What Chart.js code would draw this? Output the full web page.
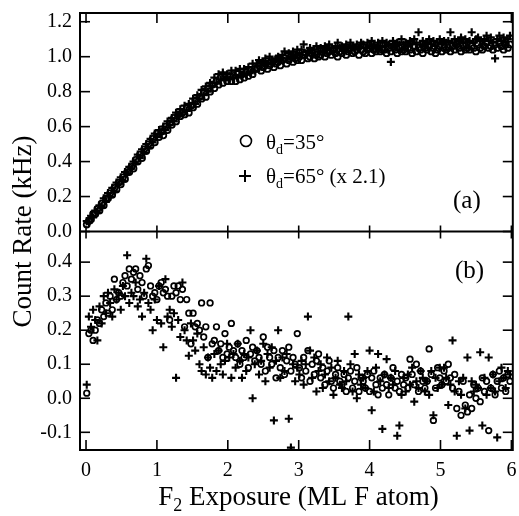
<!DOCTYPE html>
<html>
<head>
<meta charset="utf-8">
<script src="https://cdn.jsdelivr.net/npm/chart.js@4"></script>
<style>
html, body { margin: 0; padding: 0; background: #fff; }
canvas { display: block; }
</style>
</head>
<body>
<canvas id="myChart" width="519" height="516"></canvas>
<script>
// F2 exposure (ML F atom), shared by both detectors and both panels
var exposure = [
  0.01,0.04,0.07,0.10,0.13,0.16,0.19,0.22,0.25,0.28,
  0.31,0.34,0.37,0.40,0.43,0.46,0.49,0.52,0.55,0.58,
  0.61,0.64,0.67,0.70,0.73,0.76,0.79,0.82,0.85,0.88,
  0.91,0.94,0.97,1.00,1.03,1.06,1.09,1.12,1.15,1.18,
  1.21,1.24,1.27,1.30,1.33,1.36,1.39,1.42,1.45,1.48,
  1.51,1.54,1.57,1.60,1.63,1.66,1.69,1.72,1.75,1.78,
  1.81,1.84,1.87,1.90,1.93,1.96,1.99,2.02,2.05,2.08,
  2.11,2.14,2.17,2.20,2.23,2.26,2.29,2.32,2.35,2.38,
  2.41,2.44,2.47,2.50,2.53,2.56,2.59,2.62,2.65,2.68,
  2.71,2.74,2.77,2.80,2.83,2.86,2.89,2.92,2.95,2.98,
  3.01,3.04,3.07,3.10,3.13,3.16,3.19,3.22,3.25,3.28,
  3.31,3.34,3.37,3.40,3.43,3.46,3.49,3.52,3.55,3.58,
  3.61,3.64,3.67,3.70,3.73,3.76,3.79,3.82,3.85,3.88,
  3.91,3.94,3.97,4.00,4.03,4.06,4.09,4.12,4.15,4.18,
  4.21,4.24,4.27,4.30,4.33,4.36,4.39,4.42,4.45,4.48,
  4.51,4.54,4.57,4.60,4.63,4.66,4.69,4.72,4.75,4.78,
  4.81,4.84,4.87,4.90,4.93,4.96,4.99,5.02,5.05,5.08,
  5.11,5.14,5.17,5.20,5.23,5.26,5.29,5.32,5.35,5.38,
  5.41,5.44,5.47,5.50,5.53,5.56,5.59,5.62,5.65,5.68,
  5.71,5.74,5.77,5.80,5.83,5.86,5.89,5.92,5.95,5.98
];

// panel (a): count rate, theta_d = 35 deg (circles)
var rate35 = [
  0.04,0.06,0.07,0.10,0.10,0.13,0.12,0.16,0.15,0.19,
  0.19,0.22,0.21,0.25,0.24,0.28,0.27,0.31,0.30,0.34,
  0.34,0.37,0.36,0.41,0.40,0.44,0.42,0.47,0.46,0.50,
  0.49,0.53,0.51,0.56,0.54,0.57,0.55,0.60,0.58,0.62,
  0.61,0.65,0.63,0.67,0.66,0.68,0.67,0.71,0.68,0.72,
  0.71,0.75,0.73,0.77,0.76,0.80,0.77,0.82,0.80,0.84,
  0.82,0.86,0.84,0.88,0.85,0.88,0.86,0.89,0.86,0.89,
  0.86,0.90,0.87,0.90,0.88,0.91,0.89,0.92,0.90,0.93,
  0.93,0.95,0.92,0.94,0.96,0.93,0.95,0.97,0.94,0.96,
  0.97,0.95,0.98,0.99,0.96,0.98,1.00,0.97,0.99,0.98,
  1.00,0.98,1.01,1.02,0.99,1.00,1.02,0.99,1.01,1.00,
  1.01,1.03,1.00,1.02,1.03,1.01,1.04,1.02,1.00,1.03,
  1.02,1.04,1.01,1.03,1.05,1.02,1.03,1.04,1.01,1.04,
  1.03,1.02,1.04,1.05,1.02,1.04,1.03,1.05,1.03,1.04,
  1.04,1.02,1.05,1.03,1.06,1.04,1.02,1.05,1.03,1.04,
  1.03,1.05,1.04,1.02,1.06,1.03,1.05,1.04,1.02,1.05,
  1.04,1.06,1.03,1.05,1.02,1.04,1.06,1.03,1.05,1.04,
  1.05,1.03,1.06,1.04,1.07,1.05,1.03,1.06,1.04,1.05,
  1.04,1.06,1.05,1.03,1.07,1.05,1.04,1.06,1.08,1.05,
  1.06,1.04,1.07,1.05,1.08,1.06,1.04,1.07,1.05,1.07
];

// panel (a): count rate, theta_d = 65 deg x 2.1 (pluses)
var rate65 = [
  0.06,0.05,0.09,0.08,0.12,0.11,0.15,0.14,0.19,0.17,
  0.22,0.20,0.25,0.23,0.28,0.27,0.31,0.29,0.34,0.33,
  0.37,0.36,0.40,0.39,0.44,0.42,0.47,0.45,0.50,0.48,
  0.53,0.51,0.56,0.54,0.58,0.56,0.60,0.58,0.63,0.61,
  0.65,0.63,0.68,0.66,0.70,0.68,0.72,0.69,0.73,0.71,
  0.76,0.73,0.78,0.76,0.81,0.78,0.83,0.80,0.85,0.83,
  0.88,0.85,0.90,0.87,0.91,0.87,0.90,0.87,0.92,0.88,
  0.92,0.88,0.93,0.89,0.93,0.90,0.94,0.91,0.96,0.92,
  0.96,0.98,0.95,0.97,0.99,0.96,1.00,0.98,0.97,0.99,
  1.00,0.98,1.01,1.03,0.99,1.02,1.00,1.03,1.01,1.04,
  1.02,1.04,1.07,1.01,1.03,1.05,1.02,1.04,1.06,1.03,
  1.05,1.03,1.06,1.04,1.07,1.05,1.03,1.06,1.08,1.05,
  1.06,1.04,1.07,1.05,1.08,1.06,1.04,1.07,1.05,1.08,
  1.07,1.05,1.08,1.06,1.09,1.07,1.05,1.08,1.06,1.09,
  1.06,1.08,1.07,0.97,1.09,1.06,1.08,1.07,1.10,1.07,
  1.08,1.06,1.09,1.07,1.10,1.08,1.14,1.07,1.09,1.06,
  1.08,1.10,1.07,1.09,1.06,1.08,1.10,1.07,1.09,1.08,
  1.09,1.14,1.08,1.10,1.07,1.09,1.11,1.08,1.10,1.08,
  1.09,1.14,1.08,1.10,1.11,1.09,1.07,1.10,1.12,1.09,
  1.11,1.08,0.99,1.10,1.12,1.09,1.11,1.08,1.10,1.12
];

// panel (b), theta_d = 35 deg (circles)
var panelB35 = [
  0.015,0.19,0.20,0.17,0.20,0.23,0.22,0.26,0.24,0.28,
  0.25,0.30,0.26,0.35,0.29,0.31,0.30,0.34,0.36,0.33,
  0.38,0.35,0.37,0.38,0.32,0.36,0.34,0.30,0.38,0.39,
  0.33,0.30,0.31,0.29,0.33,0.34,0.31,0.32,0.30,0.23,
  0.30,0.33,0.31,0.33,0.29,0.32,0.21,0.29,0.25,0.16,
  0.25,0.21,0.22,0.20,0.28,0.18,0.21,0.12,0.28,0.16,
  0.17,0.21,0.14,0.16,0.12,0.19,0.13,0.15,0.22,0.14,
  0.12,0.16,0.10,0.14,0.12,0.17,0.09,0.13,0.15,0.11,
  0.14,0.12,0.10,0.18,0.08,0.15,0.12,0.10,0.14,0.06,
  0.12,0.09,0.14,0.07,0.11,0.15,0.08,0.12,0.10,0.19,
  0.09,0.06,0.12,0.08,0.14,0.05,0.10,0.07,0.11,0.13,
  0.06,0.09,0.04,0.08,0.11,0.05,0.03,0.07,0.09,0.05,
  0.04,0.07,0.02,0.06,0.08,0.03,0.05,0.09,0.02,0.06,
  0.05,0.03,0.07,0.02,0.06,0.08,0.04,0.01,0.06,0.03,
  0.07,0.04,0.01,0.06,0.09,0.03,0.05,0.02,0.07,0.04,
  0.06,0.03,0.115,0.07,0.04,0.10,0.02,0.08,0.05,0.03,
  0.05,0.145,0.07,-0.065,0.03,0.09,0.06,0.04,0.08,0.05,
  0.10,0.06,0.03,0.07,-0.03,0.02,-0.05,0.05,-0.02,-0.04,
  0.01,-0.03,0.04,0.00,0.03,-0.01,0.06,0.02,0.05,-0.095,
  0.03,0.07,0.01,0.05,0.08,0.03,0.06,0.02,0.07,0.05
];

// panel (b), theta_d = 65 deg (pluses)
var panelB65 = [
  0.04,0.24,0.21,0.26,0.23,0.17,0.27,0.22,0.30,0.25,
  0.31,0.28,0.24,0.32,0.29,0.31,0.26,0.33,0.30,0.42,
  0.28,0.31,0.30,0.34,0.27,0.29,0.24,0.31,0.41,0.28,
  0.26,0.20,0.29,0.23,0.33,0.22,0.15,0.35,0.24,0.26,
  0.21,0.25,0.06,0.23,0.18,0.34,0.20,0.17,0.125,0.22,
  0.17,0.14,0.19,0.10,0.08,0.15,0.07,0.12,0.09,0.06,
  0.13,0.08,0.14,0.10,0.07,0.11,0.16,0.12,0.06,0.13,
  0.09,0.16,0.11,0.06,0.13,0.08,0.12,0.20,0.00,0.10,
  0.14,0.07,0.11,0.16,0.05,0.13,0.09,0.15,-0.065,0.11,
  0.20,0.06,0.12,0.08,0.13,-0.06,-0.145,0.10,0.05,0.09,
  0.07,0.11,0.04,0.10,0.24,0.14,0.06,0.12,0.02,0.08,
  0.10,0.03,0.07,0.12,0.05,0.09,0.01,0.06,0.11,0.04,
  0.03,0.08,0.05,0.24,0.10,0.02,0.13,0.00,0.07,0.04,
  0.06,0.03,0.08,0.14,-0.035,0.02,0.09,0.13,0.05,-0.09,
  0.07,0.115,0.03,0.06,0.04,0.08,-0.11,-0.08,0.01,0.06,
  0.02,0.07,0.04,0.09,-0.01,0.05,0.03,0.08,0.06,0.02,
  0.05,0.01,0.08,-0.05,0.06,0.03,0.09,0.04,0.09,0.06,
  -0.02,0.04,0.17,0.02,-0.11,0.05,0.01,0.06,-0.03,0.12,
  -0.095,0.05,0.02,0.04,0.03,0.135,-0.08,0.06,0.01,0.12,
  0.03,0.07,0.02,-0.115,0.05,0.09,0.06,0.03,0.08,0.07
];

var xTicks = [0, 1, 2, 3, 4, 5, 6];
var rateTicks = [0.0, 0.2, 0.4, 0.6, 0.8, 1.0, 1.2];
var panelBTicks = [-0.1, 0.0, 0.1, 0.2, 0.3, 0.4];

var serif = '"Liberation Serif", "Times New Roman", serif';

function pts(ys) {
  return exposure.map(function (x, i) { return { x: x, y: ys[i] }; });
}

function line(ctx, x1, y1, x2, y2) {
  ctx.beginPath();
  ctx.moveTo(x1, y1);
  ctx.lineTo(x2, y2);
  ctx.stroke();
}

// theta with subscript d, then the rest of the label
function thetaLabel(ctx, x, y, rest) {
  ctx.font = '21px ' + serif;
  ctx.fillText('\u03b8', x, y);
  x += ctx.measureText('\u03b8').width;
  ctx.font = '14px ' + serif;
  ctx.fillText('d', x, y + 5);
  x += ctx.measureText('d').width;
  ctx.font = '21px ' + serif;
  ctx.fillText(rest, x, y);
}

var framePlugin = {
  id: 'frame',
  afterDatasetsDraw: function (chart) {
    var ctx = chart.ctx, a = chart.chartArea;
    var sx = chart.scales.x, yr = chart.scales.yRate, yb = chart.scales.yB;
    var mid = yr.bottom;
    ctx.save();
    ctx.strokeStyle = '#000';
    ctx.fillStyle = '#000';
    ctx.lineWidth = 2;
    ctx.strokeRect(a.left, a.top, a.right - a.left, a.bottom - a.top);
    line(ctx, a.left, mid, a.right, mid);

    ctx.lineWidth = 1.6;
    xTicks.forEach(function (v) {
      var px = sx.getPixelForValue(v);
      line(ctx, px, a.top, px, a.top + 10);
      line(ctx, px, mid - 6, px, mid + 7);
      line(ctx, px, a.bottom - 10, px, a.bottom);
    });
    rateTicks.forEach(function (v) {
      var py = yr.getPixelForValue(v);
      line(ctx, a.left, py, a.left + 10, py);
      line(ctx, a.right - 10, py, a.right, py);
    });
    panelBTicks.forEach(function (v) {
      var py = yb.getPixelForValue(v);
      line(ctx, a.left, py, a.left + 10, py);
      line(ctx, a.right - 10, py, a.right, py);
    });

    // legend
    ctx.lineWidth = 1.6;
    ctx.beginPath();
    ctx.arc(246, 141, 5.5, 0, Math.PI * 2);
    ctx.stroke();
    ctx.lineWidth = 2;
    line(ctx, 239, 176, 251, 176);
    line(ctx, 245, 170, 245, 182);
    ctx.textAlign = 'left';
    ctx.textBaseline = 'alphabetic';
    thetaLabel(ctx, 266, 149, '=35\u00b0');
    thetaLabel(ctx, 266, 183, '=65\u00b0 (x 2.1)');

    ctx.font = '25px ' + serif;
    ctx.fillText('(a)', 453, 208);
    ctx.fillText('(b)', 455, 278);

    // y title spanning both panels
    ctx.save();
    ctx.font = '27px ' + serif;
    ctx.translate(24, (a.top + a.bottom) / 2);
    ctx.rotate(-Math.PI / 2);
    ctx.textAlign = 'center';
    ctx.textBaseline = 'middle';
    ctx.fillText('Count Rate (kHz)', 0, 0);
    ctx.restore();

    // x title with subscript 2
    ctx.font = '27px ' + serif;
    var wF = ctx.measureText('F').width;
    var rest = ' Exposure (ML F atom)';
    var wR = ctx.measureText(rest).width;
    ctx.font = '18px ' + serif;
    var w2 = ctx.measureText('2').width;
    var x0 = (a.left + a.right) / 2 - (wF + w2 + wR) / 2 + 2;
    ctx.font = '27px ' + serif;
    ctx.fillText('F', x0, 505);
    ctx.font = '18px ' + serif;
    ctx.fillText('2', x0 + wF, 511);
    ctx.font = '27px ' + serif;
    ctx.fillText(rest, x0 + wF + w2, 505);
    ctx.restore();
  }
};

var tickFont = { family: serif, size: 20 };

var chrt = document.getElementById('myChart').getContext('2d');
var chartId = new Chart(chrt, {
  type: 'scatter',
  data: {
    datasets: [{
      label: '\u03b8d=35\u00b0',
      data: pts(rate35),
      yAxisID: 'yRate',
      pointStyle: 'circle',
      pointRadius: 3,
      pointBorderWidth: 1.8,
      borderColor: '#000',
      backgroundColor: 'rgba(0,0,0,0)'
    }, {
      label: '\u03b8d=65\u00b0 (x 2.1)',
      data: pts(rate65),
      yAxisID: 'yRate',
      pointStyle: 'cross',
      pointRadius: 4,
      pointBorderWidth: 2.2,
      borderColor: '#000',
      backgroundColor: '#000'
    }, {
      label: '\u03b8d=35\u00b0 (b)',
      data: pts(panelB35),
      yAxisID: 'yB',
      pointStyle: 'circle',
      pointRadius: 2.8,
      pointBorderWidth: 1.7,
      borderColor: '#000',
      backgroundColor: 'rgba(0,0,0,0)'
    }, {
      label: '\u03b8d=65\u00b0 (b)',
      data: pts(panelB65),
      yAxisID: 'yB',
      pointStyle: 'cross',
      pointRadius: 4,
      pointBorderWidth: 2.1,
      borderColor: '#000',
      backgroundColor: '#000'
    }]
  },
  options: {
    responsive: false,
    animation: false,
    events: [],
    layout: { padding: { left: 0, top: 13, right: 2, bottom: 0 } },
    plugins: { legend: { display: false }, tooltip: { enabled: false } },
    scales: {
      x: {
        type: 'linear',
        position: 'bottom',
        min: -0.085,
        max: 6.02,
        grid: { display: false, drawTicks: false },
        border: { display: false },
        afterBuildTicks: function (s) { s.ticks = xTicks.map(function (v) { return { value: v }; }); },
        afterFit: function (s) { s.height = 66; s.paddingLeft = 0; s.paddingRight = 0; },
        ticks: { autoSkip: false, maxRotation: 0, padding: 9, color: '#000', font: tickFont,
                 callback: function (v) { return String(v); } }
      },
      yB: {
        type: 'linear',
        position: 'left',
        stack: 'panels',
        stackWeight: 1,
        min: -0.152,
        max: 0.49,
        grid: { display: false, drawTicks: false },
        border: { display: false },
        afterBuildTicks: function (s) { s.ticks = panelBTicks.map(function (v) { return { value: v }; }); },
        afterFit: function (s) { s.width = 80; s.paddingTop = 0; s.paddingBottom = 0; },
        ticks: { autoSkip: false, padding: 8, color: '#000', font: tickFont,
                 callback: function (v) { return v.toFixed(1); } }
      },
      yRate: {
        type: 'linear',
        position: 'left',
        stack: 'panels',
        stackWeight: 1,
        min: 0,
        max: 1.25,
        grid: { display: false, drawTicks: false },
        border: { display: false },
        afterBuildTicks: function (s) { s.ticks = rateTicks.map(function (v) { return { value: v }; }); },
        afterFit: function (s) { s.width = 80; s.paddingTop = 0; s.paddingBottom = 0; },
        ticks: { autoSkip: false, padding: 8, color: '#000', font: tickFont,
                 callback: function (v) { return v.toFixed(1); } }
      }
    }
  },
  plugins: [framePlugin]
});
</script>
</body>
</html>
